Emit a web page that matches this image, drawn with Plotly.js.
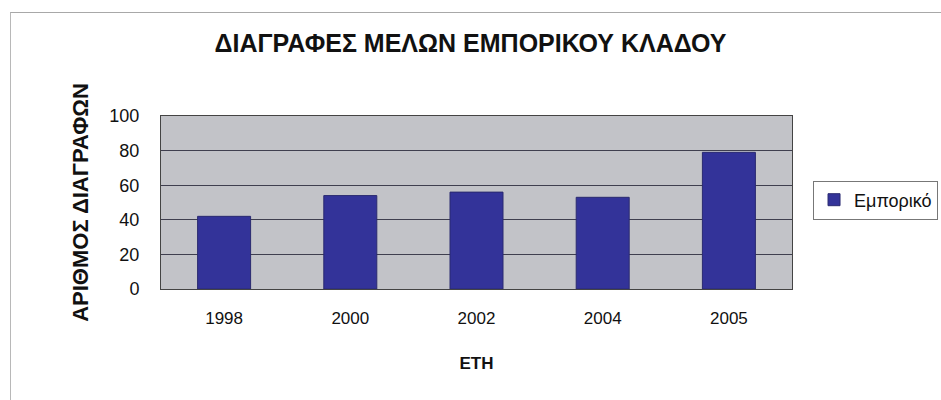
<!DOCTYPE html>
<html>
<head>
<meta charset="utf-8">
<script src="https://cdn.plot.ly/plotly-3.0.1.min.js"></script>
<style>
html,body{margin:0;padding:0;background:#fff;}
#wrap{position:relative;width:941px;height:400px;}
#chart{width:941px;height:400px;}
#frame{position:absolute;left:10px;top:12px;width:940px;height:400px;border-left:1.5px solid #b8b8b8;border-top:1.5px solid #a8a8a8;pointer-events:none;}
</style>
</head>
<body>
<div id="wrap">
<div id="chart"></div>
<div id="frame"></div>
</div>
<script>
const years = ['1998', '2000', '2002', '2004', '2005'];
const deletions = [42, 54, 56, 53, 79];
const seriesName = 'Εμπορικό';
const yTicks = [0, 20, 40, 60, 80, 100];

const font = 'Liberation Sans, Arial, sans-serif';

const trace = {
  type: 'bar',
  x: years,
  y: deletions,
  name: seriesName,
  showlegend: true,
  marker: {color: '#333399', line: {color: '#2a2a70', width: 1}},
  hoverinfo: 'x+y'
};

const layout = {
  width: 941,
  height: 400,
  margin: {l: 161, r: 149, t: 116, b: 111, autoexpand: false},
  paper_bgcolor: '#ffffff',
  plot_bgcolor: '#c2c3c8',
  font: {family: font, size: 17, color: '#111'},
  title: {
    text: '<b>ΔΙΑΓΡΑΦΕΣ ΜΕΛΩΝ ΕΜΠΟΡΙΚΟΥ ΚΛΑΔΟΥ</b>',
    font: {family: font, size: 25, color: '#111'},
    x: 0.5, xanchor: 'center', xref: 'container',
    y: 0.891, yref: 'container', yanchor: 'middle'
  },
  xaxis: {
    type: 'category',
    tickvals: years,
    ticktext: years,
    showgrid: false,
    showline: true,
    linecolor: '#444',
    linewidth: 1,
    mirror: true,
    ticks: '',
    ticklabelstandoff: 14,
    tickfont: {family: font, size: 17, color: '#111'},
    title: {text: '<b>ΕΤΗ</b>', font: {family: font, size: 17, color: '#111'}, standoff: 29}
  },
  yaxis: {
    range: [0, 100],
    tickvals: yTicks,
    ticktext: yTicks.map(String),
    showgrid: true,
    gridcolor: '#3f3f4f',
    gridwidth: 1,
    zeroline: false,
    showline: true,
    linecolor: '#444',
    linewidth: 1,
    mirror: true,
    ticks: '',
    ticklabelstandoff: 17,
    tickfont: {family: font, size: 18, color: '#111'},
    title: {text: '<b>ΑΡΙΘΜΟΣ ΔΙΑΓΡΑΦΩΝ</b>', font: {family: font, size: 22, color: '#111'}, standoff: 14}
  },
  bargap: 0.58,
  showlegend: true,
  legend: {
    xref: 'container', yref: 'container',
    x: 0.864, xanchor: 'left',
    y: 0.5, yanchor: 'middle',
    bgcolor: '#ffffff',
    bordercolor: '#777',
    borderwidth: 1,
    font: {family: font, size: 18, color: '#111'},
    itemwidth: 30
  }
};

Plotly.newPlot('chart', [trace], layout, {displayModeBar: false, staticPlot: true});
</script>
</body>
</html>
